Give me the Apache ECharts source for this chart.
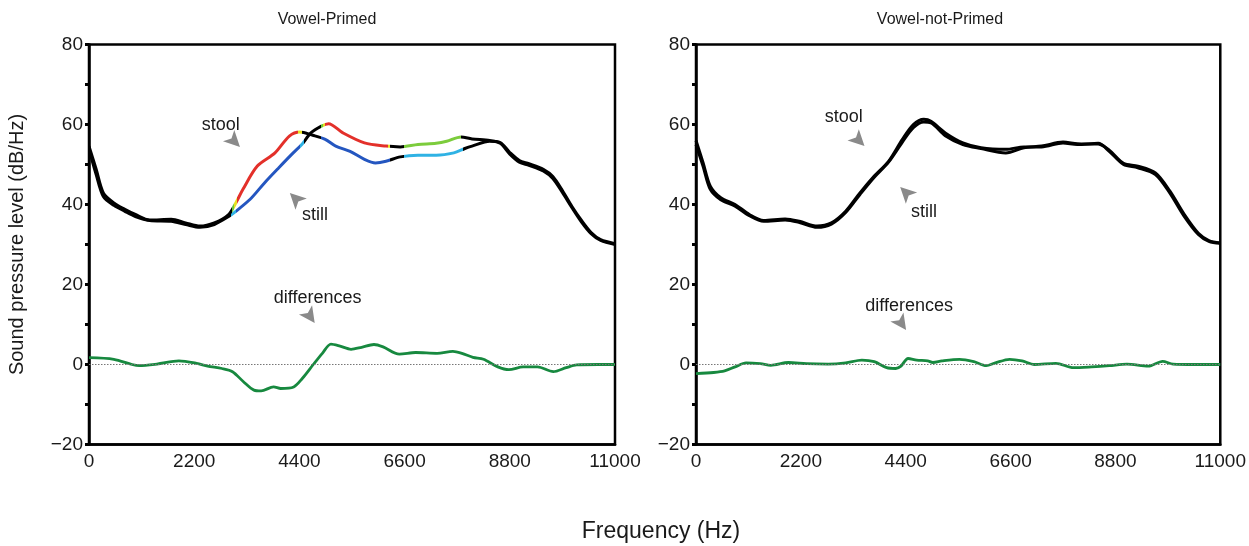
<!DOCTYPE html>
<html>
<head>
<meta charset="utf-8">
<script src="https://cdn.jsdelivr.net/npm/echarts@6/dist/echarts.min.js"></script>
<style>
html,body{margin:0;padding:0;background:#fff;}
#c{width:1249px;height:546px;}
</style>
</head>
<body>
<div id="c"></div>
<script>
// ---------- data ----------
const panelTitles = ['Vowel-Primed', 'Vowel-not-Primed'];
const xTicks = [0, 2200, 4400, 6600, 8800, 11000];

// Left panel (Vowel-Primed)
const lpStoolFreq = [0,150,300,520,750,970,1270,1720,2020,2320,2620,2920,3070,3220,3520,3890,4190,4410,4680,4940,5160,5460,5760,5990,6210,6510,6880,7260,7630,7860,8010,8380,8600,8800,9000,9200,9500,9700,9900,10100,10300,10500,10700,11000];
const lpStoolLevel = [54.6,48.8,42.9,40.4,38.8,37.5,36.1,36.3,35.4,34.6,35.4,37.5,40.4,43.8,49.6,52.9,57.1,58.1,57.3,56.3,54.6,53.3,51.3,50.4,50.8,51.9,52.3,52.3,52.9,54.0,54.6,55.8,55.5,53.0,51.0,50.2,48.8,47.0,43.5,39.5,36.0,33.0,31.2,30.2];
const lpStillFreq = [0,150,300,520,750,970,1270,1720,2020,2320,2620,2920,3070,3370,3670,3970,4270,4450,4640,4860,5010,5310,5760,6210,6510,6880,7260,7480,7780,8010,8380,8600,8800,9000,9200,9500,9700,9900,10100,10300,10500,10700,11000];
const lpStillLevel = [53.8,47.5,42.0,39.8,38.3,37.0,36.0,35.8,35.0,34.3,35.0,37.0,38.3,41.3,45.4,49.2,52.9,55.0,57.9,59.6,60.2,57.9,55.4,54.6,54.4,55.0,55.3,55.8,56.9,56.4,56.0,55.3,52.6,50.6,49.8,48.4,46.5,43.0,39.2,35.6,32.7,31.0,30.0];
const lpDiffFreq = [0,520,900,1050,1420,1880,2250,2480,2780,3000,3230,3450,3600,3860,4010,4280,4460,4690,4880,5060,5250,5480,5700,5960,6150,6490,6830,7280,7610,7800,8030,8250,8550,8780,9080,9380,9710,9980,10200,10650,11000];
const lpDiffLevel = [1.7,1.3,0,-0.3,0.1,0.9,0.3,-0.4,-1,-1.8,-4.3,-6.4,-6.6,-5.6,-6,-5.6,-3.5,0,2.8,5.1,4.6,3.8,4.3,5,4.4,2.6,3,2.8,3.3,2.8,1.8,1.3,-0.6,-1.3,-0.6,-0.6,-1.8,-0.8,-0.1,0,0];

// Right panel (Vowel-not-Primed)
const rpStoolFreq = [0,150,300,520,820,1120,1420,1870,2170,2540,2840,3140,3440,3740,4040,4330,4560,4780,4930,5230,5600,5980,6500,6880,7250,7700,8000,8440,8670,8970,9270,9640,9940,10240,10540,10760,11000];
const rpStoolLevel = [56,50.4,44.6,41.7,40,37.5,36,36.4,35.8,34.6,35.4,38.3,42.9,47.1,50.8,56.3,60,61.3,60.8,57.9,55.4,54.2,53.8,54.4,54.4,55.4,55,55.3,53.3,50,49.2,47.5,42.9,37.1,32.5,30.8,30.3];
const rpStillFreq = [0,150,300,520,820,1120,1420,1870,2170,2540,2840,3140,3440,3740,4040,4330,4560,4780,4930,5230,5600,5980,6500,6880,7250,7700,8000,8440,8670,8970,9270,9640,9940,10240,10540,10760,11000];
const rpStillLevel = [55,49.5,43.8,41.2,39.6,37.2,35.8,36.1,35.5,34.3,35.1,38.0,42.5,46.8,50.6,55.6,59.2,60.6,60.4,57.2,55.0,54.0,52.9,54.2,54.6,55.6,55.2,55.1,53.6,50.3,49.6,47.9,43.4,37.6,32.8,31.0,30.4];
const rpDiffFreq = [0,370,600,820,1050,1350,1570,1940,2320,2770,3140,3480,3740,4000,4190,4300,4450,4630,4860,4970,5160,5530,5830,6090,6280,6580,6840,7100,7550,7920,8300,8670,9040,9490,9790,10010,10460,11000];
const rpDiffLevel = [-2.3,-2,-1.6,-0.6,0.4,0.2,-0.2,0.5,0.2,0.1,0.4,1.1,0.7,-0.8,-1,-0.4,1.5,1.1,0.9,0.5,0.9,1.3,0.7,-0.3,0.4,1.3,0.9,0,0.3,-0.8,-0.6,-0.3,0.1,-0.4,0.8,0.1,0,0];

// colour sections along frequency (left panel)
const stoolSections = [[0,2990,'#000'],[2990,3040,'#6cc43a'],[3040,3100,'#e6e020'],[3100,4380,'#e3302a'],[4380,4450,'#e6e020'],[4450,4860,'#000'],[4860,6290,'#2456c0'],[6290,6590,'#000'],[6590,7820,'#2fb2e4'],[7820,11001,'#000']];
const stillSections = [[0,2960,'#000'],[2960,3080,'#2fb2e4'],[3080,4420,'#2456c0'],[4420,4490,'#2fb2e4'],[4490,4850,'#000'],[4850,4900,'#6cc43a'],[4900,4940,'#e6e020'],[4940,6250,'#e3302a'],[6250,6300,'#e6e020'],[6300,6590,'#000'],[6590,7780,'#7ccc3c'],[7780,11001,'#000']];

// annotations: [panel, text, freq, level] and arrows [panel, freq, level, rotation]
const annoTexts = [[0,'stool',2756,59.9],[0,'still',4724,37.4],[0,'differences',4782,16.6],[1,'stool',3098,61.9],[1,'still',4783,38.1],[1,'differences',4471,14.6]];
const annoArrows = [[0,3157,54.4,-135],[0,4200,42.9,45],[0,4720,10.4,-145],[1,3535,54.6,-135],[1,4284,44.4,45],[1,4408,8.6,-145]];

// ---------- chart ----------
const FONT = "'Liberation Sans', Arial, Helvetica, sans-serif";
const pairs = (fs, vs) => fs.map((f, i) => [f, vs[i]]);
const grids = [
  {left: 89, top: 44.5, width: 526, height: 400},
  {left: 696, top: 44.5, width: 529, height: 400}
];

function xAxis(i){
  return {
    type:'value', gridIndex:i, min:0, max:11000, interval:2200,
    axisLine:{show:true, onZero:false, lineStyle:{color:'#000', width:2.5}},
    axisTick:{show:false}, splitLine:{show:false},
    axisLabel:{color:'#1a1a1a', fontSize:19, fontFamily:FONT, margin:8,
      formatter:v => xTicks.includes(v) ? String(v) : ''}
  };
}
function yAxis(i){
  const ax = {
    type:'value', gridIndex:i, min:-20, max:80, interval:10,
    axisLine:{show:true, onZero:false, lineStyle:{color:'#000', width:2.5}},
    axisTick:{show:true, length:4, lineStyle:{color:'#000', width:3}},
    splitLine:{show:false},
    axisLabel:{color:'#1a1a1a', fontSize:19, fontFamily:FONT, margin:6,
      formatter:v => (v % 20 === 0) ? (v < 0 ? '\u2212' + Math.abs(v) : String(v)) : ''}
  };
  if (i === 0) {
    ax.name = 'Sound pressure level (dB/Hz)';
    ax.nameLocation = 'middle';
    ax.nameRotate = 90;
    ax.nameGap = 62;
    ax.nameTextStyle = {color:'#1a1a1a', fontSize:20, fontFamily:FONT};
  }
  return ax;
}

function markPointsFor(panel){
  const data = [];
  annoTexts.filter(a => a[0] === panel).forEach(a => data.push({
    coord:[a[2], a[3]], symbol:'rect', symbolSize:1,
    itemStyle:{color:'rgba(0,0,0,0)'},
    label:{show:true, position:'inside', formatter:a[1], color:'#1a1a1a', fontSize:18, fontFamily:FONT}
  }));
  annoArrows.filter(a => a[0] === panel).forEach(a => data.push({
    coord:[a[1], a[2]], symbol:'arrow', symbolSize:[12,16], symbolRotate:a[3],
    itemStyle:{color:'#8a8a8a'}, label:{show:false}
  }));
  return {silent:true, animation:false, data};
}

const zeroLine = {
  silent:true, symbol:['none','none'], animation:false,
  lineStyle:{color:'#777', type:[1.5,1.5], width:1},
  label:{show:false}, data:[{yAxis:0}]
};

function lineSeries(panel, data, color, width){
  const s = {
    type:'line', xAxisIndex:panel, yAxisIndex:panel, data,
    showSymbol:false, smooth:0.3, animation:false,
    lineStyle:{width}
  };
  if (color) { s.lineStyle.color = color; s.itemStyle = {color}; }
  return s;
}

const series = [
  lineSeries(0, pairs(lpStillFreq, lpStillLevel), null, 3),
  lineSeries(0, pairs(lpStoolFreq, lpStoolLevel), null, 3),
  Object.assign(lineSeries(0, pairs(lpDiffFreq, lpDiffLevel), '#17893f', 2.8), {markLine: zeroLine, markPoint: markPointsFor(0)}),
  lineSeries(1, pairs(rpStillFreq, rpStillLevel), '#000', 3),
  lineSeries(1, pairs(rpStoolFreq, rpStoolLevel), '#000', 3),
  Object.assign(lineSeries(1, pairs(rpDiffFreq, rpDiffLevel), '#17893f', 2.8), {markLine: zeroLine, markPoint: markPointsFor(1)})
];

const toPieces = secs => secs.map(s => ({gte:s[0], lt:s[1], color:s[2]}));

const option = {
  animation:false,
  backgroundColor:'#fff',
  title:[
    {text:panelTitles[0], left:322, top:7, textAlign:'center', textStyle:{fontSize:16, fontWeight:'normal', color:'#1a1a1a', fontFamily:FONT}},
    {text:panelTitles[1], left:935, top:7, textAlign:'center', textStyle:{fontSize:16, fontWeight:'normal', color:'#1a1a1a', fontFamily:FONT}},
    {text:'Frequency (Hz)', left:656, top:515, textAlign:'center', textStyle:{fontSize:23, fontWeight:'normal', color:'#1a1a1a', fontFamily:FONT}}
  ],
  grid: grids.map(g => Object.assign({show:true, borderColor:'#000', borderWidth:2.5, backgroundColor:'transparent'}, g)),
  xAxis:[xAxis(0), xAxis(1)],
  yAxis:[yAxis(0), yAxis(1)],
  visualMap:[
    {type:'piecewise', show:false, dimension:0, seriesIndex:1, pieces:toPieces(stoolSections)},
    {type:'piecewise', show:false, dimension:0, seriesIndex:0, pieces:toPieces(stillSections)}
  ],
  series
};

const chart = echarts.init(document.getElementById('c'), null, {renderer:'canvas'});
chart.setOption(option);
</script>
</body>
</html>
